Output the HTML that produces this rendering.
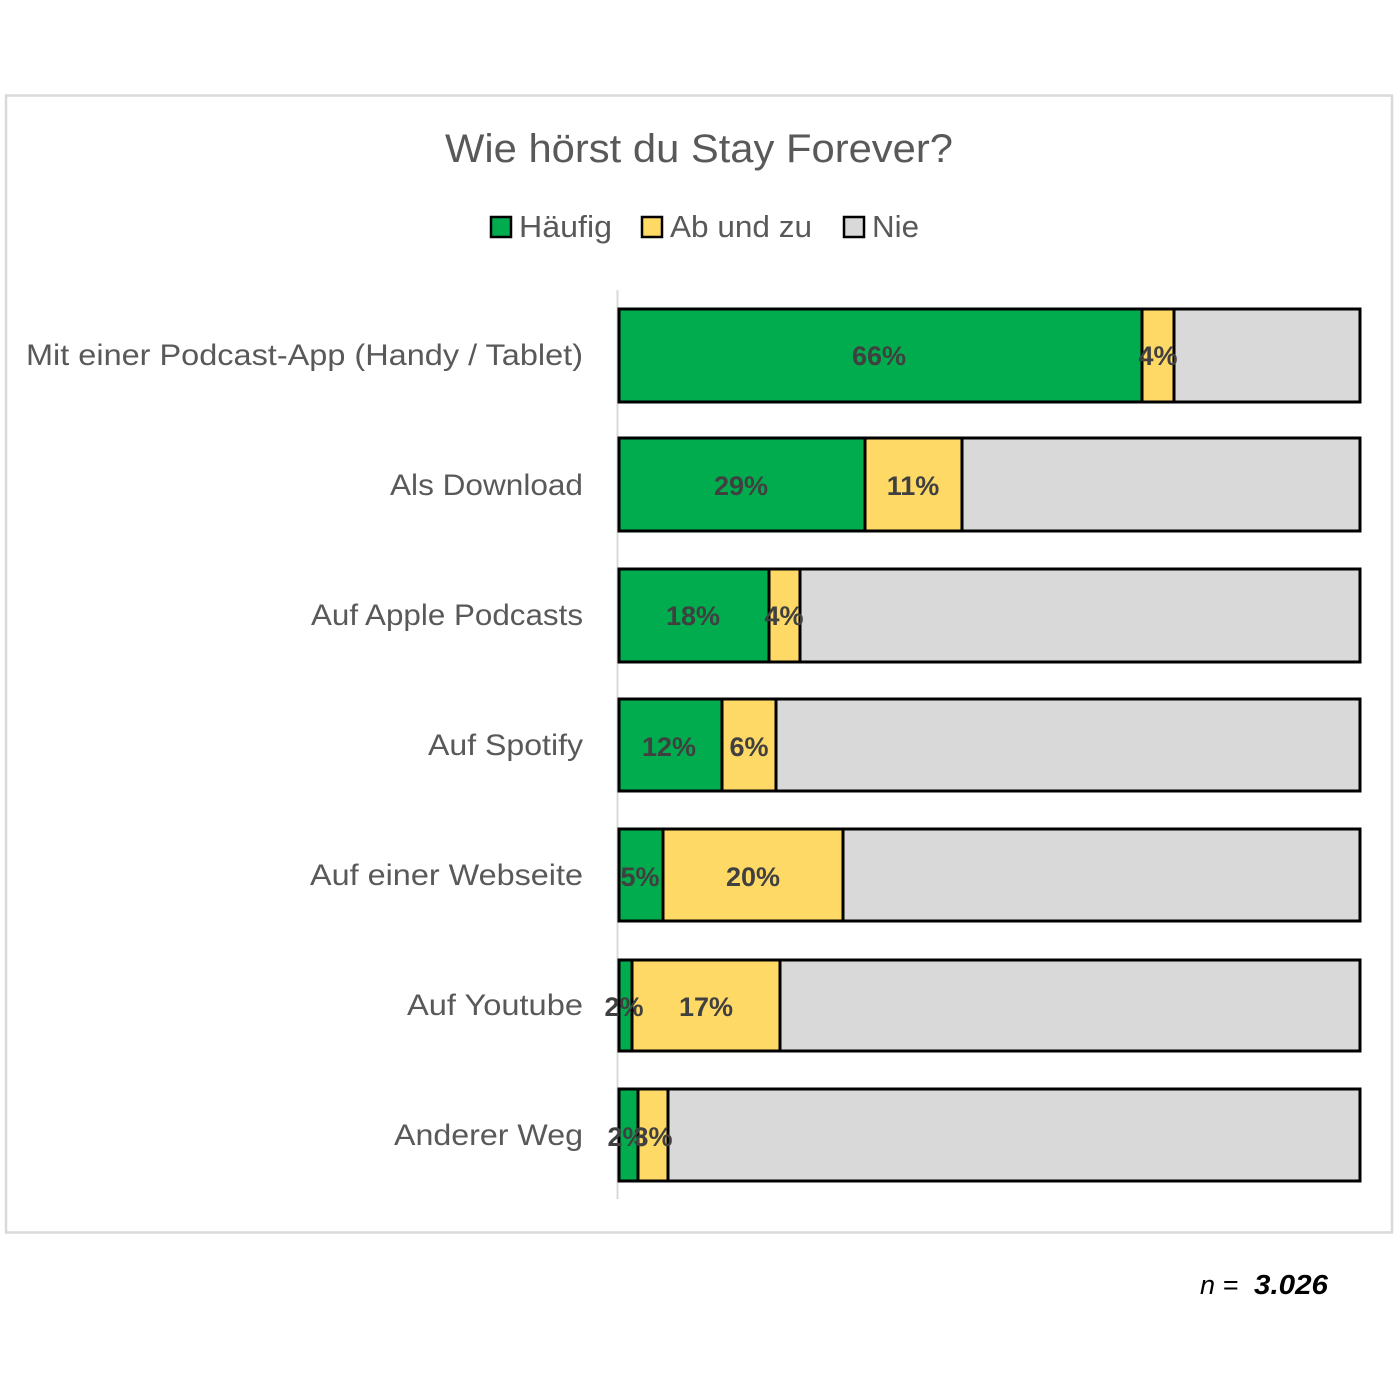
<!DOCTYPE html>
<html><head><meta charset="utf-8"><style>
html,body{margin:0;padding:0;background:#fff;}
svg{display:block;}
</style></head><body>
<svg width="1400" height="1400" viewBox="0 0 1400 1400" xmlns="http://www.w3.org/2000/svg" font-family="'Liberation Sans', sans-serif">
<rect x="0" y="0" width="1400" height="1400" fill="#fff"/>
<rect x="6" y="95.5" width="1386" height="1137" fill="#fff" stroke="#d9d9d9" stroke-width="2.5"/>
<text x="699" y="162" text-anchor="middle" font-size="40" fill="#595959" textLength="508" lengthAdjust="spacingAndGlyphs">Wie hörst du Stay Forever?</text>
<g stroke="#000" stroke-width="2.5">
<rect x="491" y="217" width="20" height="20" fill="#00ac4e"/>
<rect x="642" y="217" width="20" height="20" fill="#ffd966"/>
<rect x="844" y="217" width="20" height="20" fill="#d9d9d9"/>
</g>
<g font-size="31" fill="#595959">
<text x="519" y="237" textLength="93" lengthAdjust="spacingAndGlyphs">Häufig</text>
<text x="670" y="237" textLength="142" lengthAdjust="spacingAndGlyphs">Ab und zu</text>
<text x="872" y="237" textLength="47" lengthAdjust="spacingAndGlyphs">Nie</text>
</g>
<line x1="617.5" y1="290" x2="617.5" y2="1199" stroke="#d9d9d9" stroke-width="2"/>
<g font-size="30" fill="#595959" text-anchor="end">
<text x="583" y="365" textLength="557" lengthAdjust="spacingAndGlyphs">Mit einer Podcast-App (Handy / Tablet)</text>
<text x="583" y="495" textLength="193" lengthAdjust="spacingAndGlyphs">Als Download</text>
<text x="583" y="625" textLength="272" lengthAdjust="spacingAndGlyphs">Auf Apple Podcasts</text>
<text x="583" y="755" textLength="155" lengthAdjust="spacingAndGlyphs">Auf Spotify</text>
<text x="583" y="885" textLength="273" lengthAdjust="spacingAndGlyphs">Auf einer Webseite</text>
<text x="583" y="1015" textLength="176" lengthAdjust="spacingAndGlyphs">Auf Youtube</text>
<text x="583" y="1145" textLength="189" lengthAdjust="spacingAndGlyphs">Anderer Weg</text>
</g>
<g stroke="#000" stroke-width="3">
<rect x="619" y="309" width="523" height="93" fill="#00ac4e"/>
<rect x="1142" y="309" width="32" height="93" fill="#ffd966"/>
<rect x="1174" y="309" width="186" height="93" fill="#d9d9d9"/>
<rect x="619" y="438" width="246" height="93" fill="#00ac4e"/>
<rect x="865" y="438" width="97" height="93" fill="#ffd966"/>
<rect x="962" y="438" width="398" height="93" fill="#d9d9d9"/>
<rect x="619" y="569" width="150" height="93" fill="#00ac4e"/>
<rect x="769" y="569" width="31" height="93" fill="#ffd966"/>
<rect x="800" y="569" width="560" height="93" fill="#d9d9d9"/>
<rect x="619" y="699" width="103" height="92" fill="#00ac4e"/>
<rect x="722" y="699" width="54" height="92" fill="#ffd966"/>
<rect x="776" y="699" width="584" height="92" fill="#d9d9d9"/>
<rect x="619" y="829" width="44" height="92" fill="#00ac4e"/>
<rect x="663" y="829" width="180" height="92" fill="#ffd966"/>
<rect x="843" y="829" width="517" height="92" fill="#d9d9d9"/>
<rect x="619" y="960" width="13" height="91" fill="#00ac4e"/>
<rect x="632" y="960" width="148" height="91" fill="#ffd966"/>
<rect x="780" y="960" width="580" height="91" fill="#d9d9d9"/>
<rect x="619" y="1089" width="19" height="92" fill="#00ac4e"/>
<rect x="638" y="1089" width="30" height="92" fill="#ffd966"/>
<rect x="668" y="1089" width="692" height="92" fill="#d9d9d9"/>
</g>
<g font-size="27" font-weight="bold" fill="#404040" text-anchor="middle">
<text x="879" y="365">66%</text>
<text x="1158" y="365">4%</text>
<text x="741" y="495">29%</text>
<text x="913" y="495">11%</text>
<text x="693" y="625">18%</text>
<text x="784" y="625">4%</text>
<text x="669" y="756">12%</text>
<text x="749" y="756">6%</text>
<text x="640" y="886">5%</text>
<text x="753" y="886">20%</text>
<text x="624" y="1016">2%</text>
<text x="706" y="1016">17%</text>
<text x="627" y="1146">2%</text>
<text x="653" y="1146">3%</text>
</g>
<text x="1200" y="1294" font-size="27" font-style="italic" fill="#000">n =</text>
<text x="1254" y="1294" font-size="28" font-style="italic" font-weight="bold" fill="#000" textLength="74" lengthAdjust="spacingAndGlyphs">3.026</text>
</svg>
</body></html>
